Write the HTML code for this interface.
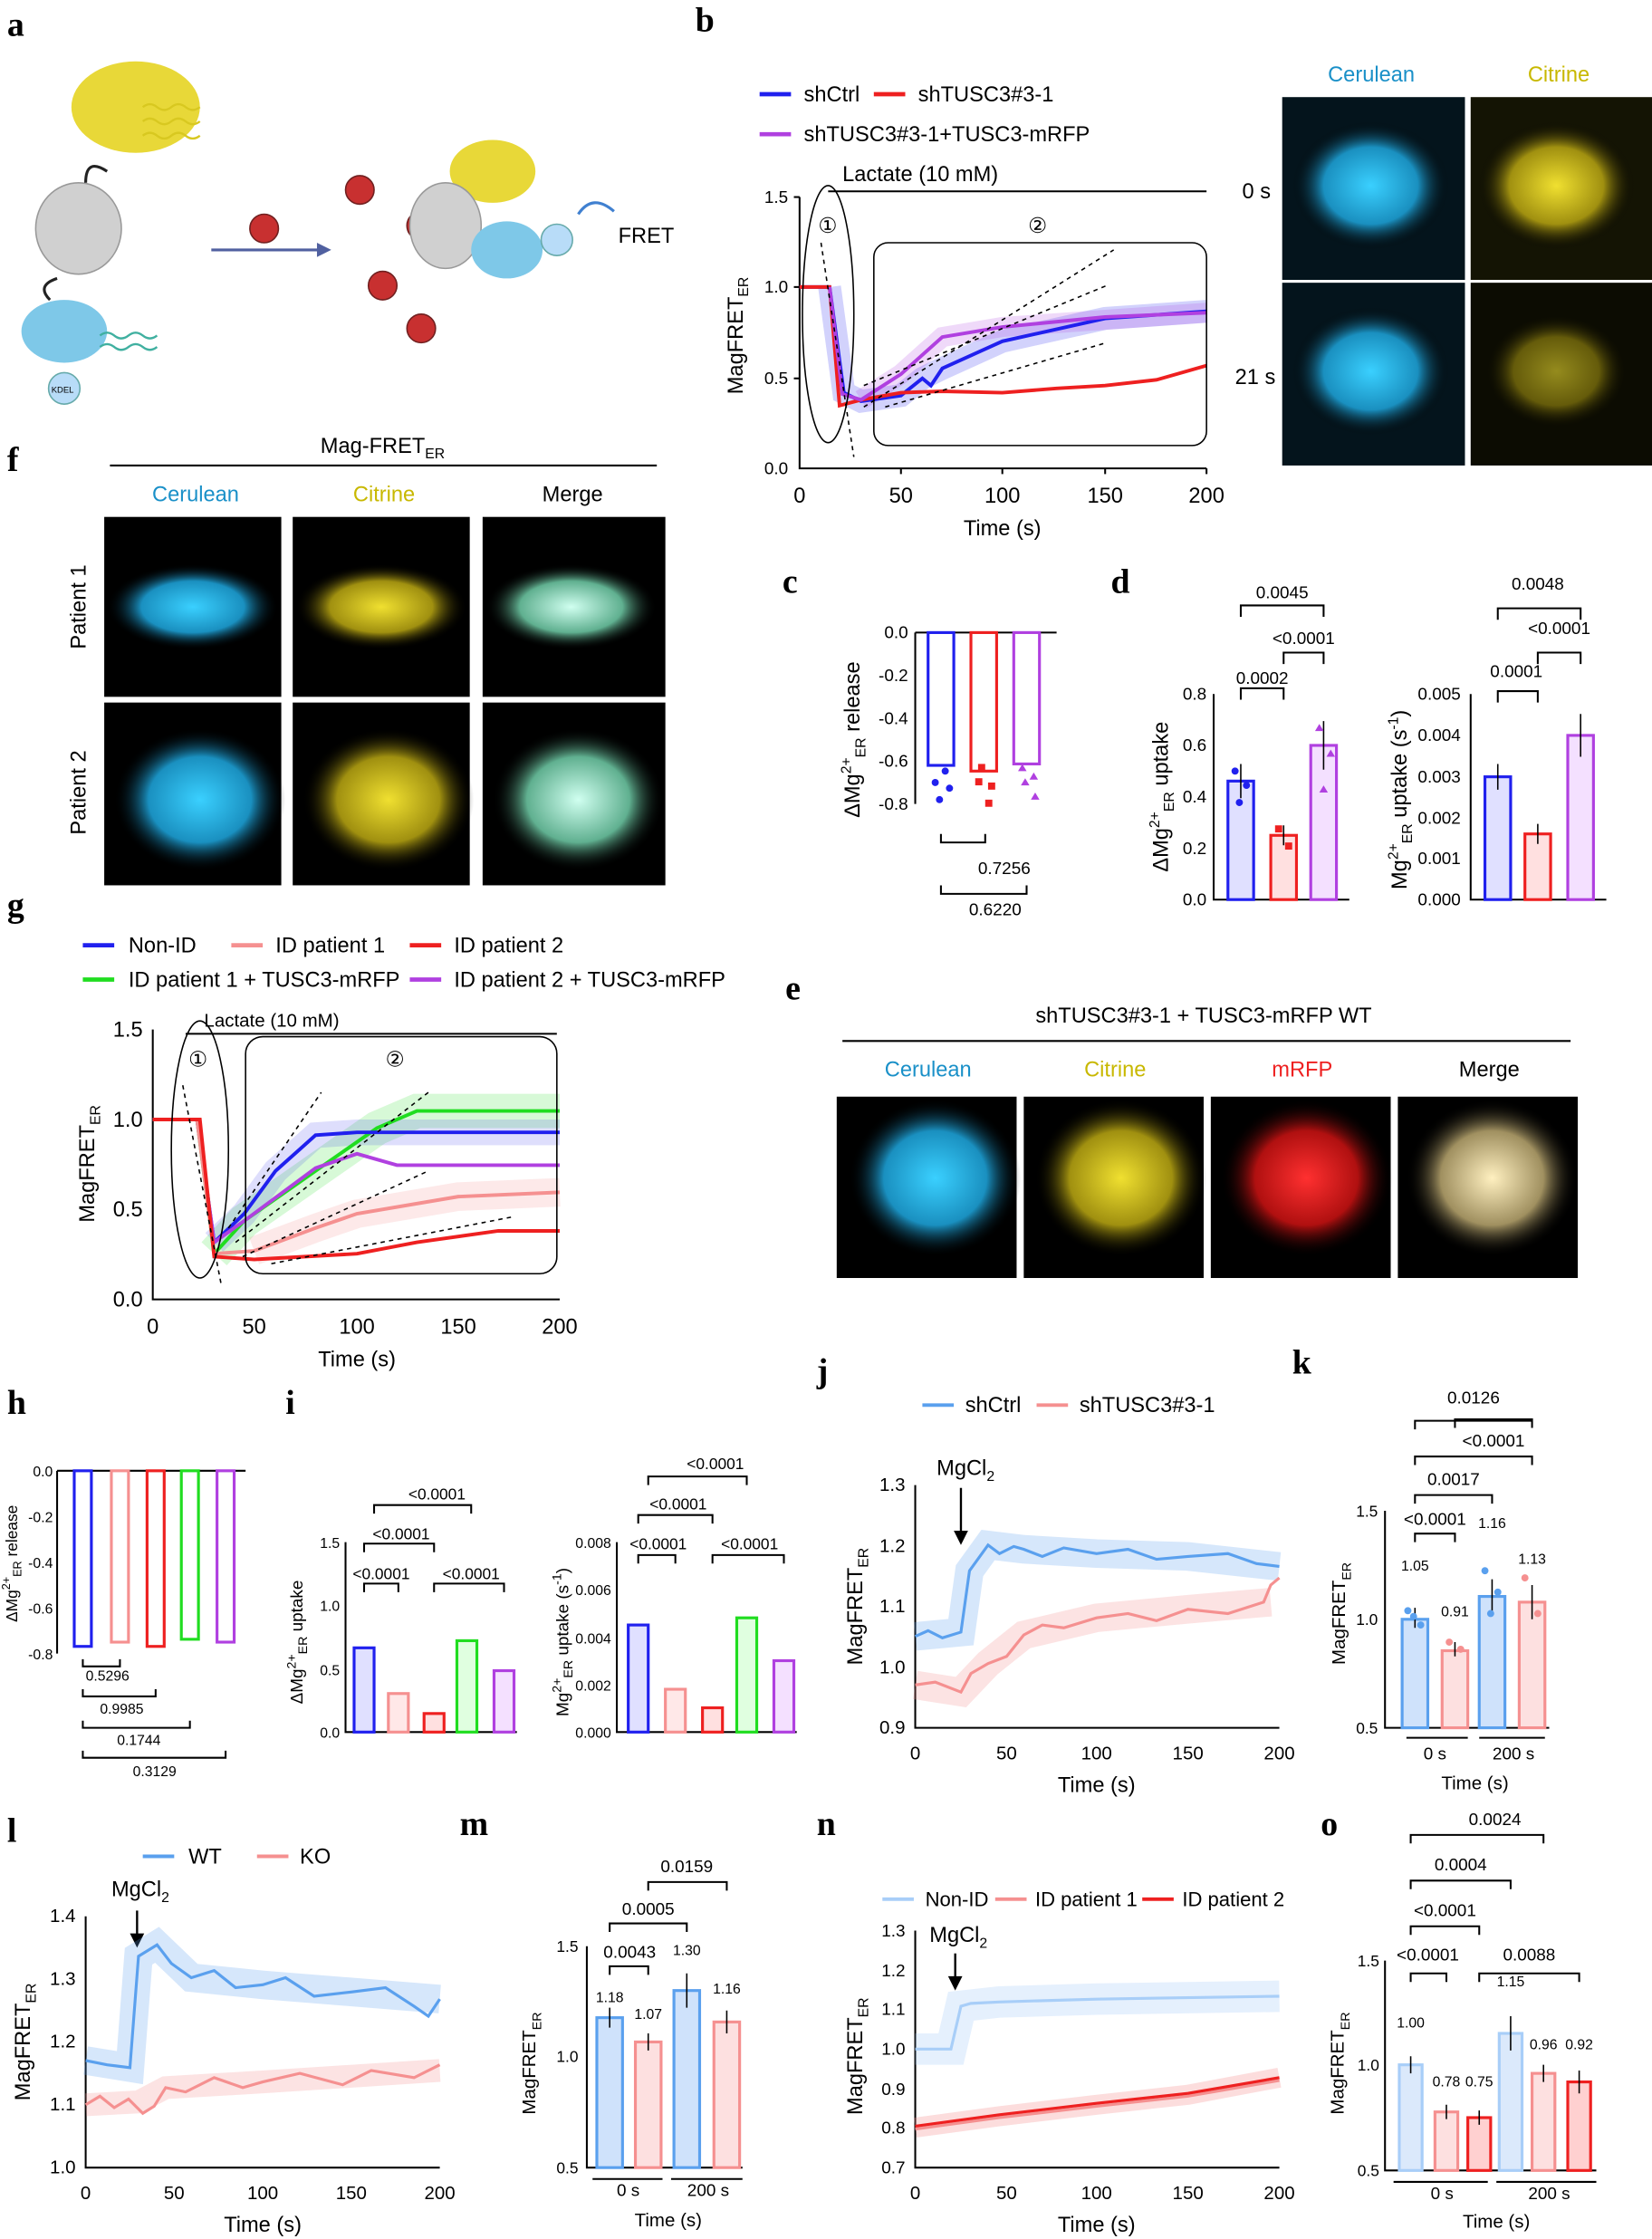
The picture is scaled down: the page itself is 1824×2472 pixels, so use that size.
<!DOCTYPE html>
<html><head><meta charset="utf-8"><style>
html,body{margin:0;padding:0;background:#fff}
svg{display:block}
text{font-family:"Liberation Sans",sans-serif;fill:#000}
.pl{font-size:24px;font-weight:bold;font-family:"Liberation Serif",serif}
.t{font-size:12px}
.l{font-size:15px}
.ax{stroke:#000;stroke-width:1.3;fill:none}
</style></head><body>
<svg width="1824" height="2472" viewBox="0 0 1157 1568" preserveAspectRatio="none" xmlns="http://www.w3.org/2000/svg">
<defs>
<radialGradient id="gc"><stop offset="0" stop-color="#3ad0ff"/><stop offset="0.6" stop-color="#1a90c0"/><stop offset="1" stop-color="#000" stop-opacity="0"/></radialGradient>
<radialGradient id="gy"><stop offset="0" stop-color="#f0e030"/><stop offset="0.6" stop-color="#a09010"/><stop offset="1" stop-color="#000" stop-opacity="0"/></radialGradient>
<radialGradient id="gm"><stop offset="0" stop-color="#d0fff0"/><stop offset="0.6" stop-color="#60b090"/><stop offset="1" stop-color="#000" stop-opacity="0"/></radialGradient>
<radialGradient id="gr"><stop offset="0" stop-color="#ff3030"/><stop offset="0.6" stop-color="#b01010"/><stop offset="1" stop-color="#000" stop-opacity="0"/></radialGradient>
<radialGradient id="gw"><stop offset="0" stop-color="#fff0c0"/><stop offset="0.6" stop-color="#a09060"/><stop offset="1" stop-color="#000" stop-opacity="0"/></radialGradient>
</defs>
<!-- panel letters -->
<text class="pl" x="5" y="25">a</text><text class="pl" x="487" y="22">b</text>
<text class="pl" x="5" y="330">f</text><text class="pl" x="548" y="415">c</text><text class="pl" x="778" y="415">d</text>
<text class="pl" x="5" y="642">g</text><text class="pl" x="550" y="700">e</text>
<text class="pl" x="5" y="990">h</text><text class="pl" x="200" y="990">i</text><text class="pl" x="572" y="968">j</text><text class="pl" x="905" y="962">k</text>
<text class="pl" x="5" y="1290">l</text><text class="pl" x="322" y="1285">m</text><text class="pl" x="572" y="1285">n</text><text class="pl" x="925" y="1285">o</text>

<!-- panel a cartoon -->
<ellipse cx="95" cy="75" rx="45" ry="32" fill="#e8d838"/>
<ellipse cx="55" cy="160" rx="30" ry="32" fill="#d0d0d0" stroke="#999"/>
<ellipse cx="45" cy="232" rx="30" ry="22" fill="#7ec8e8"/>
<circle cx="45" cy="272" r="11" fill="#b8dcf8" stroke="#6aa"/><text x="36" y="275" style="font-size:6px">KDEL</text>
<path d="M75 120 Q60 110 60 128 M40 195 Q25 200 35 210" stroke="#222" stroke-width="2" fill="none"/>
<g stroke="#d8c820" stroke-width="1.5" fill="none"><path d="M100 75 q5-4 10 0 q5 4 10 0 q5-4 10 0 q5 4 10 0"/><path d="M100 85 q5-4 10 0 q5 4 10 0 q5-4 10 0 q5 4 10 0"/><path d="M100 95 q5-4 10 0 q5 4 10 0 q5-4 10 0 q5 4 10 0"/></g>
<g stroke="#40b0a0" stroke-width="1.5" fill="none"><path d="M70 235 q5-4 10 0 q5 4 10 0 q5-4 10 0 q5 4 10 0"/><path d="M70 243 q5-4 10 0 q5 4 10 0 q5-4 10 0 q5 4 10 0"/></g>
<line x1="148" y1="175" x2="228" y2="175" stroke="#5060a0" stroke-width="2"/><path d="M232 175 l-10-5 v10z" fill="#5060a0"/>
<g fill="#c83030" stroke="#702020"><circle cx="185" cy="160" r="10"/><circle cx="252" cy="133" r="10"/><circle cx="295" cy="158" r="10"/><circle cx="268" cy="200" r="10"/><circle cx="295" cy="230" r="10"/></g>
<ellipse cx="345" cy="120" rx="30" ry="22" fill="#e8d838"/>
<ellipse cx="312" cy="158" rx="25" ry="30" fill="#d0d0d0" stroke="#999"/>
<ellipse cx="355" cy="175" rx="25" ry="20" fill="#7ec8e8"/>
<circle cx="390" cy="168" r="11" fill="#b8dcf8" stroke="#6aa"/>
<path d="M430 148 Q415 135 405 150" stroke="#4080d0" stroke-width="2" fill="none"/>
<text x="433" y="170" class="l">FRET</text>

<!-- panel b -->
<line x1="532" y1="66" x2="554" y2="66" stroke="#2020ee" stroke-width="3"/><text x="563" y="71" class="l">shCtrl</text>
<line x1="612" y1="66" x2="634" y2="66" stroke="#ee2020" stroke-width="3"/><text x="643" y="71" class="l">shTUSC3#3-1</text>
<line x1="532" y1="94" x2="554" y2="94" stroke="#b040e0" stroke-width="3"/><text x="563" y="99" class="l">shTUSC3#3-1+TUSC3-mRFP</text>
<text x="590" y="127" class="l">Lactate (10 mM)</text><line x1="580" y1="134" x2="845" y2="134" class="ax"/>
<path d="M560 138 V328 H845" class="ax"/>
<g class="t" text-anchor="end"><text x="552" y="142">1.5</text><text x="552" y="205">1.0</text><text x="552" y="269">0.5</text><text x="552" y="332">0.0</text></g>
<g class="ax"><line x1="556" y1="138" x2="560" y2="138"/><line x1="556" y1="201" x2="560" y2="201"/><line x1="556" y1="265" x2="560" y2="265"/><line x1="631" y1="328" x2="631" y2="332"/><line x1="702" y1="328" x2="702" y2="332"/><line x1="774" y1="328" x2="774" y2="332"/><line x1="845" y1="328" x2="845" y2="332"/></g>
<g class="l" text-anchor="middle"><text x="560" y="352">0</text><text x="631" y="352">50</text><text x="702" y="352">100</text><text x="774" y="352">150</text><text x="845" y="352">200</text><text x="702" y="375">Time (s)</text></g>
<text transform="translate(520 235) rotate(-90)" text-anchor="middle" class="l">MagFRET<tspan dy="4" font-size="10">ER</tspan></text>
<polyline points="581,201 591,275 603,281 631,277 646,265 660,258 702,239 774,223 845,218" fill="none" stroke="#2020ee" stroke-width="16" opacity="0.2"/>
<polyline points="603,280 631,262 660,236 702,229 845,219" fill="none" stroke="#b040e0" stroke-width="14" opacity="0.2"/>
<polyline points="560,201 581,201 591,275 603,281 631,277 646,265 652,270 660,258 702,239 774,223 845,218" fill="none" stroke="#2020ee" stroke-width="2.5"/>
<polyline points="560,201 581,201 588,284 603,280 631,275 660,274 702,275 740,272 774,270 810,266 845,256" fill="none" stroke="#ee2020" stroke-width="2.5"/>
<polyline points="581,201 590,276 603,280 631,262 660,236 702,229 774,222 845,219" fill="none" stroke="#b040e0" stroke-width="2.5"/>
<ellipse cx="580" cy="220" rx="18" ry="90" fill="none" stroke="#000"/>
<rect x="612" y="170" width="233" height="142" rx="10" fill="none" stroke="#000"/>
<text x="573" y="163" class="l">①</text><text x="720" y="163" class="l">②</text>
<g stroke="#000" stroke-dasharray="3,3"><line x1="575" y1="170" x2="598" y2="320"/><line x1="605" y1="270" x2="775" y2="200"/><line x1="605" y1="285" x2="780" y2="175"/><line x1="620" y1="285" x2="775" y2="240"/></g>
<text x="930" y="57" class="l" style="fill:#1a90c8">Cerulean</text><text x="1070" y="57" class="l" style="fill:#c8b800">Citrine</text>
<text x="870" y="139" class="l">0 s</text><text x="865" y="269" class="l">21 s</text>
<rect x="898" y="68" width="128" height="128" fill="#04141c"/><ellipse cx="960" cy="130" rx="55" ry="45" fill="url(#gc)"/>
<rect x="1030" y="68" width="127" height="128" fill="#141404"/><ellipse cx="1090" cy="130" rx="55" ry="45" fill="url(#gy)"/>
<rect x="898" y="198" width="128" height="128" fill="#04141c"/><ellipse cx="960" cy="260" rx="55" ry="45" fill="url(#gc)"/>
<rect x="1030" y="198" width="127" height="128" fill="#0c0c02"/><ellipse cx="1090" cy="260" rx="50" ry="40" fill="url(#gy)" opacity="0.6"/>

<!-- panel f -->
<text x="268" y="317" class="l" text-anchor="middle">Mag-FRET<tspan dy="4" font-size="10">ER</tspan></text>
<line x1="77" y1="326" x2="460" y2="326" class="ax"/>
<text x="137" y="351" class="l" text-anchor="middle" style="fill:#1a90c8">Cerulean</text><text x="269" y="351" class="l" text-anchor="middle" style="fill:#c8b800">Citrine</text><text x="401" y="351" class="l" text-anchor="middle">Merge</text>
<text transform="translate(60 425) rotate(-90)" class="l" text-anchor="middle">Patient 1</text><text transform="translate(60 555) rotate(-90)" class="l" text-anchor="middle">Patient 2</text>
<rect x="73" y="362" width="124" height="126" fill="#000"/><ellipse cx="135" cy="425" rx="60" ry="30" fill="url(#gc)"/>
<rect x="205" y="362" width="124" height="126" fill="#000"/><ellipse cx="267" cy="425" rx="60" ry="30" fill="url(#gy)"/>
<rect x="338" y="362" width="128" height="126" fill="#000"/><ellipse cx="400" cy="425" rx="60" ry="30" fill="url(#gm)"/>
<rect x="73" y="492" width="124" height="128" fill="#000"/><ellipse cx="140" cy="560" rx="60" ry="50" fill="url(#gc)"/>
<rect x="205" y="492" width="124" height="128" fill="#000"/><ellipse cx="272" cy="560" rx="60" ry="50" fill="url(#gy)"/>
<rect x="338" y="492" width="128" height="128" fill="#000"/><ellipse cx="405" cy="560" rx="60" ry="50" fill="url(#gm)"/>

<!-- panel c -->
<path d="M641 443 V563 M641 443 H740" class="ax"/>
<g class="t" text-anchor="end"><text x="636" y="447">0.0</text><text x="636" y="477">-0.2</text><text x="636" y="507">-0.4</text><text x="636" y="537">-0.6</text><text x="636" y="567">-0.8</text></g>
<g fill="#fff" stroke-width="2"><rect x="650" y="443" width="18" height="93" stroke="#2020ee"/><rect x="680" y="443" width="18" height="97" stroke="#ee2020"/><rect x="710" y="443" width="18" height="92" stroke="#b040e0"/></g>
<g fill="#2020ee"><circle cx="655" cy="548" r="2.5"/><circle cx="662" cy="540" r="2.5"/><circle cx="658" cy="560" r="2.5"/><circle cx="665" cy="552" r="2.5"/></g>
<g fill="#ee2020"><rect x="683" y="545" width="5" height="5"/><rect x="690" y="560" width="5" height="5"/><rect x="685" y="535" width="5" height="5"/><rect x="692" y="548" width="5" height="5"/></g>
<g fill="#b040e0"><path d="M715 550 l3-5 3 5z M722 560 l3-5 3 5z M713 540 l3-5 3 5z M721 546 l3-5 3 5z"/></g>
<path d="M659 584 v6 H690 v-6 M659 620 v6 H719 v-6" class="ax"/>
<text x="685" y="612" class="t">0.7256</text><text x="697" y="641" class="t" text-anchor="middle">0.6220</text>
<text transform="translate(602 518) rotate(-90)" class="l" text-anchor="middle">ΔMg<tspan dy="-6" font-size="10">2+</tspan><tspan dy="10" font-size="10">ER</tspan><tspan dy="-4"> release</tspan></text>

<!-- panel d -->
<path d="M850 486 V630 H945" class="ax"/>
<g class="t" text-anchor="end"><text x="845" y="490">0.8</text><text x="845" y="526">0.6</text><text x="845" y="562">0.4</text><text x="845" y="598">0.2</text><text x="845" y="634">0.0</text></g>
<rect x="860" y="547" width="18" height="83" fill="#e0e0ff" stroke="#2020ee" stroke-width="2"/>
<rect x="890" y="585" width="18" height="45" fill="#ffe0e0" stroke="#ee2020" stroke-width="2"/>
<rect x="918" y="522" width="18" height="108" fill="#f4e0ff" stroke="#b040e0" stroke-width="2"/>
<path d="M869 535 v24 M899 578 v14 M927 505 v34" stroke="#000"/>
<g fill="#2020ee"><circle cx="865" cy="540" r="2.5"/><circle cx="873" cy="550" r="2.5"/><circle cx="868" cy="562" r="2.5"/></g>
<g fill="#ee2020"><rect x="893" y="578" width="5" height="5"/><rect x="900" y="590" width="5" height="5"/></g>
<g fill="#b040e0"><path d="M921 512 l3-5 3 5z M929 530 l3-5 3 5z M924 555 l3-5 3 5z"/></g>
<path d="M869 490 v-8 H899 v8 M899 465 v-8 H927 v8 M869 432 v-8 H927 v8" class="ax"/>
<text x="884" y="479" class="t" text-anchor="middle">0.0002</text><text x="913" y="451" class="t" text-anchor="middle">&lt;0.0001</text><text x="898" y="419" class="t" text-anchor="middle">0.0045</text>
<text transform="translate(818 558) rotate(-90)" class="l" text-anchor="middle">ΔMg<tspan dy="-6" font-size="10">2+</tspan><tspan dy="10" font-size="10">ER</tspan><tspan dy="-4"> uptake</tspan></text>
<path d="M1030 486 V630 H1125" class="ax"/>
<g class="t" text-anchor="end"><text x="1023" y="490">0.005</text><text x="1023" y="519">0.004</text><text x="1023" y="548">0.003</text><text x="1023" y="577">0.002</text><text x="1023" y="605">0.001</text><text x="1023" y="634">0.000</text></g>
<rect x="1040" y="544" width="18" height="86" fill="#e0e0ff" stroke="#2020ee" stroke-width="2"/>
<rect x="1068" y="584" width="18" height="46" fill="#ffe0e0" stroke="#ee2020" stroke-width="2"/>
<rect x="1098" y="515" width="18" height="115" fill="#f4e0ff" stroke="#b040e0" stroke-width="2"/>
<path d="M1049 535 v18 M1077 577 v14 M1107 500 v30" stroke="#000"/>
<path d="M1049 492 v-8 H1077 v8 M1077 465 v-8 H1107 v8 M1049 434 v-8 H1107 v8" class="ax"/>
<text x="1062" y="474" class="t" text-anchor="middle">0.0001</text><text x="1092" y="444" class="t" text-anchor="middle">&lt;0.0001</text><text x="1077" y="413" class="t" text-anchor="middle">0.0048</text>
<text transform="translate(985 560) rotate(-90)" class="l" text-anchor="middle">Mg<tspan dy="-6" font-size="10">2+</tspan><tspan dy="10" font-size="10">ER</tspan><tspan dy="-4"> uptake (s</tspan><tspan dy="-6" font-size="10">-1</tspan><tspan dy="6">)</tspan></text>

<!-- panel g -->
<line x1="58" y1="662" x2="80" y2="662" stroke="#2020ee" stroke-width="3"/><text x="90" y="667" class="l">Non-ID</text>
<line x1="162" y1="662" x2="184" y2="662" stroke="#f59090" stroke-width="3"/><text x="193" y="667" class="l">ID patient 1</text>
<line x1="287" y1="662" x2="309" y2="662" stroke="#ee2020" stroke-width="3"/><text x="318" y="667" class="l">ID patient 2</text>
<line x1="58" y1="686" x2="80" y2="686" stroke="#20dd20" stroke-width="3"/><text x="90" y="691" class="l">ID patient 1 + TUSC3-mRFP</text>
<line x1="287" y1="686" x2="309" y2="686" stroke="#b040e0" stroke-width="3"/><text x="318" y="691" class="l">ID patient 2 + TUSC3-mRFP</text>
<text x="143" y="719" class="t" style="font-size:13px">Lactate (10 mM)</text><line x1="130" y1="724" x2="390" y2="724" class="ax"/>
<path d="M107 721 V910 H392" class="ax"/>
<g class="l" text-anchor="end"><text x="100" y="726">1.5</text><text x="100" y="789">1.0</text><text x="100" y="852">0.5</text><text x="100" y="915">0.0</text></g>
<g class="l" text-anchor="middle"><text x="107" y="934">0</text><text x="178" y="934">50</text><text x="250" y="934">100</text><text x="321" y="934">150</text><text x="392" y="934">200</text><text x="250" y="957">Time (s)</text></g>
<text transform="translate(66 815) rotate(-90)" text-anchor="middle" class="l">MagFRET<tspan dy="4" font-size="10">ER</tspan></text>
<polyline points="150,878 171,855 221,820 264,790 292,778 392,778" fill="none" stroke="#20dd20" stroke-width="24" opacity="0.18"/>
<polyline points="150,870 171,850 193,820 221,795 250,793 392,793" fill="none" stroke="#2020ee" stroke-width="18" opacity="0.15"/>
<polyline points="178,876 221,860 250,850 321,838 392,835" fill="none" stroke="#f59090" stroke-width="20" opacity="0.2"/>
<polyline points="107,784 138,784 150,878 171,855 221,820 264,790 292,778 392,778" fill="none" stroke="#20dd20" stroke-width="2.5"/>
<polyline points="107,784 138,784 150,870 171,850 193,820 221,795 250,793 392,793" fill="none" stroke="#2020ee" stroke-width="2.5"/>
<polyline points="107,784 138,784 150,870 171,855 221,818 250,808 278,816 392,816" fill="none" stroke="#b040e0" stroke-width="2.5"/>
<polyline points="107,784 138,784 150,878 178,876 221,860 250,850 321,838 392,835" fill="none" stroke="#f59090" stroke-width="2.5"/>
<polyline points="107,784 140,784 150,880 178,882 250,878 292,870 349,862 392,862" fill="none" stroke="#ee2020" stroke-width="2.5"/>
<ellipse cx="140" cy="805" rx="20" ry="90" fill="none" stroke="#000"/>
<rect x="172" y="726" width="218" height="166" rx="12" fill="none" stroke="#000"/>
<text x="132" y="747" class="l">①</text><text x="270" y="747" class="l">②</text>
<g stroke="#000" stroke-dasharray="3,3"><line x1="128" y1="760" x2="155" y2="900"/><line x1="160" y1="860" x2="225" y2="765"/><line x1="165" y1="870" x2="300" y2="765"/><line x1="170" y1="880" x2="300" y2="820"/><line x1="190" y1="885" x2="360" y2="852"/></g>

<!-- panel e -->
<text x="843" y="716" class="l" text-anchor="middle">shTUSC3#3-1 + TUSC3-mRFP WT</text>
<line x1="590" y1="729" x2="1100" y2="729" class="ax"/>
<text x="650" y="754" class="l" text-anchor="middle" style="fill:#1a90c8">Cerulean</text><text x="781" y="754" class="l" text-anchor="middle" style="fill:#c8b800">Citrine</text><text x="912" y="754" class="l" text-anchor="middle" style="fill:#ee2020">mRFP</text><text x="1043" y="754" class="l" text-anchor="middle">Merge</text>
<rect x="586" y="768" width="126" height="127" fill="#000"/><ellipse cx="655" cy="825" rx="60" ry="55" fill="url(#gc)"/>
<rect x="717" y="768" width="126" height="127" fill="#000"/><ellipse cx="785" cy="825" rx="60" ry="55" fill="url(#gy)"/>
<rect x="848" y="768" width="126" height="127" fill="#000"/><ellipse cx="915" cy="825" rx="60" ry="55" fill="url(#gr)"/>
<rect x="979" y="768" width="126" height="127" fill="#000"/><ellipse cx="1045" cy="825" rx="60" ry="55" fill="url(#gw)"/>

<!-- panel h -->
<path d="M40 1030 V1158 M40 1030 H172" class="ax"/>
<g class="t" text-anchor="end" style="font-size:10px"><text x="37" y="1034">0.0</text><text x="37" y="1066">-0.2</text><text x="37" y="1098">-0.4</text><text x="37" y="1130">-0.6</text><text x="37" y="1162">-0.8</text></g>
<g fill="#fff" stroke-width="2"><rect x="52" y="1030" width="12" height="123" stroke="#2020ee"/><rect x="78" y="1030" width="12" height="120" stroke="#f59090"/><rect x="103" y="1030" width="12" height="123" stroke="#ee2020"/><rect x="127" y="1030" width="12" height="118" stroke="#20dd20"/><rect x="152" y="1030" width="12" height="120" stroke="#b040e0"/></g>
<path d="M58 1162 v5 H84 v-5 M58 1183 v5 H109 v-5 M58 1205 v5 H133 v-5 M58 1226 v5 H158 v-5" class="ax"/>
<g class="t" style="font-size:10px"><text x="60" y="1177">0.5296</text><text x="70" y="1200">0.9985</text><text x="82" y="1222">0.1744</text><text x="93" y="1244">0.3129</text></g>
<text transform="translate(12 1095) rotate(-90)" style="font-size:11px" text-anchor="middle">ΔMg<tspan dy="-5" font-size="8">2+</tspan><tspan dy="8" font-size="8">ER</tspan><tspan dy="-3"> release</tspan></text>

<!-- panel i -->
<path d="M242 1080 V1213 H362" class="ax"/>
<g class="t" text-anchor="end" style="font-size:10px"><text x="238" y="1084">1.5</text><text x="238" y="1128">1.0</text><text x="238" y="1173">0.5</text><text x="238" y="1217">0.0</text></g>
<rect x="248" y="1154" width="14" height="59" fill="#e0e0ff" stroke="#2020ee" stroke-width="2"/>
<rect x="272" y="1186" width="14" height="27" fill="#ffe8e8" stroke="#f59090" stroke-width="2"/>
<rect x="297" y="1200" width="14" height="13" fill="#ffe0e0" stroke="#ee2020" stroke-width="2"/>
<rect x="320" y="1149" width="14" height="64" fill="#e0ffe0" stroke="#20dd20" stroke-width="2"/>
<rect x="346" y="1170" width="14" height="43" fill="#f4e0ff" stroke="#b040e0" stroke-width="2"/>
<path d="M255 1115 v-6 H279 v6 M255 1087 v-6 H304 v6 M262 1060 v-6 H330 v6 M304 1115 v-6 H353 v6" class="ax"/>
<g class="t" text-anchor="middle" style="font-size:11px"><text x="267" y="1106">&lt;0.0001</text><text x="281" y="1078">&lt;0.0001</text><text x="306" y="1050">&lt;0.0001</text><text x="330" y="1106">&lt;0.0001</text></g>
<text transform="translate(212 1150) rotate(-90)" style="font-size:12px" text-anchor="middle">ΔMg<tspan dy="-5" font-size="9">2+</tspan><tspan dy="8" font-size="9">ER</tspan><tspan dy="-3"> uptake</tspan></text>
<path d="M432 1080 V1213 H558" class="ax"/>
<g class="t" text-anchor="end" style="font-size:10px"><text x="428" y="1084">0.008</text><text x="428" y="1117">0.006</text><text x="428" y="1151">0.004</text><text x="428" y="1184">0.002</text><text x="428" y="1217">0.000</text></g>
<rect x="440" y="1138" width="14" height="75" fill="#e0e0ff" stroke="#2020ee" stroke-width="2"/>
<rect x="466" y="1183" width="14" height="30" fill="#ffe8e8" stroke="#f59090" stroke-width="2"/>
<rect x="492" y="1196" width="14" height="17" fill="#ffe0e0" stroke="#ee2020" stroke-width="2"/>
<rect x="516" y="1133" width="14" height="80" fill="#e0ffe0" stroke="#20dd20" stroke-width="2"/>
<rect x="542" y="1163" width="14" height="50" fill="#f4e0ff" stroke="#b040e0" stroke-width="2"/>
<path d="M447 1095 v-6 H473 v6 M447 1067 v-6 H499 v6 M454 1040 v-6 H523 v6 M499 1095 v-6 H549 v6" class="ax"/>
<g class="t" text-anchor="middle" style="font-size:11px"><text x="461" y="1085">&lt;0.0001</text><text x="475" y="1057">&lt;0.0001</text><text x="501" y="1029">&lt;0.0001</text><text x="525" y="1085">&lt;0.0001</text></g>
<text transform="translate(398 1150) rotate(-90)" style="font-size:12px" text-anchor="middle">Mg<tspan dy="-5" font-size="9">2+</tspan><tspan dy="8" font-size="9">ER</tspan><tspan dy="-3"> uptake (s</tspan><tspan dy="-5" font-size="9">-1</tspan><tspan dy="5">)</tspan></text>

<!-- panel j -->
<line x1="646" y1="984" x2="668" y2="984" stroke="#5aa0ee" stroke-width="2.5"/><text x="676" y="989" class="l">shCtrl</text>
<line x1="726" y1="984" x2="748" y2="984" stroke="#f59090" stroke-width="2.5"/><text x="756" y="989" class="l">shTUSC3#3-1</text>
<text x="656" y="1033" class="l">MgCl<tspan dy="4" font-size="10">2</tspan></text><path d="M673 1042 v32" stroke="#000" stroke-width="1.5"/><path d="M673 1082 l-5-10 h10z"/>
<path d="M641 1040 V1210 H896" class="ax"/>
<g class="t" text-anchor="end" style="font-size:13px"><text x="634" y="1044">1.3</text><text x="634" y="1087">1.2</text><text x="634" y="1129">1.1</text><text x="634" y="1172">1.0</text><text x="634" y="1214">0.9</text></g>
<g class="t" text-anchor="middle" style="font-size:13px"><text x="641" y="1232">0</text><text x="705" y="1232">50</text><text x="768" y="1232">100</text><text x="832" y="1232">150</text><text x="896" y="1232">200</text></g>
<text x="768" y="1255" class="l" text-anchor="middle">Time (s)</text>
<text transform="translate(604 1125) rotate(-90)" text-anchor="middle" class="l">MagFRET<tspan dy="4" font-size="10">ER</tspan></text>
<polyline points="641,1146 673,1143 679,1100 692,1082 717,1085 768,1088 832,1090 896,1097" fill="none" stroke="#5aa0ee" stroke-width="20" opacity="0.25"/>
<polyline points="641,1180 673,1185 692,1165 717,1145 768,1133 832,1127 890,1122" fill="none" stroke="#f59090" stroke-width="20" opacity="0.25"/>
<polyline points="641,1146 650,1142 660,1147 673,1143 679,1100 692,1082 700,1088 710,1083 717,1085 730,1090 745,1084 768,1088 790,1085 810,1092 832,1090 860,1088 880,1095 896,1097" fill="none" stroke="#5aa0ee" stroke-width="2"/>
<polyline points="641,1180 655,1178 673,1185 680,1172 692,1165 705,1160 717,1145 730,1138 745,1140 768,1133 790,1130 810,1135 832,1127 860,1130 885,1122 890,1110 896,1105" fill="none" stroke="#f59090" stroke-width="2"/>

<!-- panel k -->
<path d="M970 1058 V1210 H1085" class="ax"/>
<g class="t" text-anchor="end" style="font-size:11px"><text x="965" y="1062">1.5</text><text x="965" y="1138">1.0</text><text x="965" y="1214">0.5</text></g>
<rect x="982" y="1134" width="18" height="76" fill="#cfe2fb" stroke="#5aa0ee" stroke-width="2"/>
<rect x="1010" y="1156" width="18" height="54" fill="#fde0e0" stroke="#f59090" stroke-width="2"/>
<rect x="1036" y="1118" width="18" height="92" fill="#cfe2fb" stroke="#5aa0ee" stroke-width="2"/>
<rect x="1064" y="1122" width="18" height="88" fill="#fde0e0" stroke="#f59090" stroke-width="2"/>
<path d="M991 1126 v14 M1019 1150 v10 M1045 1106 v22 M1073 1110 v24" stroke="#000"/>
<g fill="#5aa0ee"><circle cx="986" cy="1128" r="2.5"/><circle cx="995" cy="1138" r="2.5"/><circle cx="990" cy="1132" r="2.5"/><circle cx="1040" cy="1100" r="2.5"/><circle cx="1049" cy="1115" r="2.5"/><circle cx="1044" cy="1130" r="2.5"/></g>
<g fill="#f59090"><circle cx="1015" cy="1150" r="2.5"/><circle cx="1023" cy="1155" r="2.5"/><circle cx="1068" cy="1105" r="2.5"/><circle cx="1077" cy="1130" r="2.5"/></g>
<g class="t" text-anchor="middle" style="font-size:10px"><text x="991" y="1100">1.05</text><text x="1019" y="1132">0.91</text><text x="1045" y="1070">1.16</text><text x="1073" y="1095">1.13</text></g>
<path d="M991 1080 v-6 H1019 v6 M991 1053 v-6 H1045 v6 M991 1026 v-6 H1073 v6 M1019 1000 v-6 H1073 v6 M991 1001 v-6 H1073" class="ax"/>
<g class="t" text-anchor="middle" style="font-size:12px"><text x="1005" y="1068">&lt;0.0001</text><text x="1018" y="1040">0.0017</text><text x="1046" y="1013">&lt;0.0001</text><text x="1032" y="983">0.0126</text></g>
<path d="M985 1217 H1028 M1036 1217 H1082" class="ax"/>
<text x="1005" y="1232" class="t" text-anchor="middle">0 s</text><text x="1060" y="1232" class="t" text-anchor="middle">200 s</text>
<text x="1033" y="1253" class="t" text-anchor="middle" style="font-size:13px">Time (s)</text>
<text transform="translate(942 1130) rotate(-90)" text-anchor="middle" style="font-size:13px">MagFRET<tspan dy="4" font-size="9">ER</tspan></text>

<!-- panel l -->
<line x1="100" y1="1300" x2="122" y2="1300" stroke="#5aa0ee" stroke-width="2.5"/><text x="132" y="1305" class="l">WT</text>
<line x1="180" y1="1300" x2="202" y2="1300" stroke="#f59090" stroke-width="2.5"/><text x="210" y="1305" class="l">KO</text>
<text x="78" y="1328" class="l">MgCl<tspan dy="4" font-size="10">2</tspan></text><path d="M96 1338 v18" stroke="#000" stroke-width="1.5"/><path d="M96 1364 l-5-10 h10z"/>
<path d="M60 1342 V1518 H308" class="ax"/>
<g class="t" text-anchor="end" style="font-size:13px"><text x="53" y="1346">1.4</text><text x="53" y="1390">1.3</text><text x="53" y="1434">1.2</text><text x="53" y="1478">1.1</text><text x="53" y="1522">1.0</text></g>
<g class="t" text-anchor="middle" style="font-size:13px"><text x="60" y="1540">0</text><text x="122" y="1540">50</text><text x="184" y="1540">100</text><text x="246" y="1540">150</text><text x="308" y="1540">200</text></g>
<text x="184" y="1563" class="l" text-anchor="middle">Time (s)</text>
<text transform="translate(21 1430) rotate(-90)" text-anchor="middle" class="l">MagFRET<tspan dy="4" font-size="10">ER</tspan></text>
<polyline points="60,1443 91,1448 97,1370 110,1362 134,1385 184,1390 246,1395 308,1400" fill="none" stroke="#5aa0ee" stroke-width="20" opacity="0.25"/>
<polyline points="60,1474 97,1472 116,1462 184,1458 308,1450" fill="none" stroke="#f59090" stroke-width="16" opacity="0.25"/>
<polyline points="60,1443 75,1446 91,1448 97,1370 110,1362 120,1375 134,1385 150,1380 165,1392 184,1390 200,1385 220,1398 246,1395 270,1392 290,1405 300,1412 308,1400" fill="none" stroke="#5aa0ee" stroke-width="2"/>
<polyline points="60,1474 70,1468 80,1476 90,1470 100,1480 108,1475 116,1462 130,1465 150,1455 170,1462 184,1458 210,1452 240,1460 260,1450 290,1455 308,1446" fill="none" stroke="#f59090" stroke-width="2"/>

<!-- panel m -->
<path d="M411 1363 V1518 H520" class="ax"/>
<g class="t" text-anchor="end" style="font-size:11px"><text x="405" y="1367">1.5</text><text x="405" y="1444">1.0</text><text x="405" y="1522">0.5</text></g>
<rect x="418" y="1413" width="18" height="105" fill="#cfe2fb" stroke="#5aa0ee" stroke-width="2"/>
<rect x="445" y="1430" width="18" height="88" fill="#fde0e0" stroke="#f59090" stroke-width="2"/>
<rect x="472" y="1394" width="18" height="124" fill="#cfe2fb" stroke="#5aa0ee" stroke-width="2"/>
<rect x="500" y="1416" width="18" height="102" fill="#fde0e0" stroke="#f59090" stroke-width="2"/>
<path d="M427 1406 v14 M454 1424 v12 M481 1382 v24 M509 1408 v16" stroke="#000"/>
<g class="t" text-anchor="middle" style="font-size:10px"><text x="427" y="1402">1.18</text><text x="454" y="1414">1.07</text><text x="481" y="1369">1.30</text><text x="509" y="1396">1.16</text></g>
<path d="M427 1383 v-6 H454 v6 M427 1353 v-6 H481 v6 M454 1324 v-6 H509 v6" class="ax"/>
<g class="t" text-anchor="middle" style="font-size:12px"><text x="441" y="1371">0.0043</text><text x="454" y="1341">0.0005</text><text x="481" y="1311">0.0159</text></g>
<path d="M415 1526 H464 M470 1526 H520" class="ax"/>
<text x="440" y="1538" class="t" text-anchor="middle">0 s</text><text x="496" y="1538" class="t" text-anchor="middle">200 s</text>
<text x="468" y="1559" class="t" text-anchor="middle" style="font-size:13px">Time (s)</text>
<text transform="translate(375 1445) rotate(-90)" text-anchor="middle" style="font-size:13px">MagFRET<tspan dy="4" font-size="9">ER</tspan></text>

<!-- panel n -->
<line x1="618" y1="1330" x2="640" y2="1330" stroke="#a8cef8" stroke-width="2.5"/><text x="648" y="1335" class="l" style="font-size:14px">Non-ID</text>
<line x1="697" y1="1330" x2="719" y2="1330" stroke="#f59090" stroke-width="2.5"/><text x="725" y="1335" class="l" style="font-size:14px">ID patient 1</text>
<line x1="800" y1="1330" x2="822" y2="1330" stroke="#ee2020" stroke-width="2.5"/><text x="828" y="1335" class="l" style="font-size:14px">ID patient 2</text>
<text x="651" y="1360" class="l">MgCl<tspan dy="4" font-size="10">2</tspan></text><path d="M669 1368 v18" stroke="#000" stroke-width="1.5"/><path d="M669 1394 l-5-10 h10z"/>
<path d="M641 1352 V1518 H896" class="ax"/>
<g class="t" text-anchor="end" style="font-size:12px"><text x="634" y="1356">1.3</text><text x="634" y="1384">1.2</text><text x="634" y="1411">1.1</text><text x="634" y="1439">1.0</text><text x="634" y="1467">0.9</text><text x="634" y="1494">0.8</text><text x="634" y="1522">0.7</text></g>
<g class="t" text-anchor="middle" style="font-size:13px"><text x="641" y="1540">0</text><text x="705" y="1540">50</text><text x="768" y="1540">100</text><text x="832" y="1540">150</text><text x="896" y="1540">200</text></g>
<text x="768" y="1563" class="l" text-anchor="middle">Time (s)</text>
<text transform="translate(604 1440) rotate(-90)" text-anchor="middle" class="l">MagFRET<tspan dy="4" font-size="10">ER</tspan></text>
<polyline points="641,1435 666,1435 673,1405 700,1402 768,1400 896,1398" fill="none" stroke="#a8cef8" stroke-width="22" opacity="0.3"/>
<polyline points="641,1490 700,1482 768,1474 832,1467 896,1455" fill="none" stroke="#f59090" stroke-width="14" opacity="0.3"/>
<polyline points="641,1435 666,1435 673,1405 680,1403 700,1402 768,1400 896,1398" fill="none" stroke="#a8cef8" stroke-width="2"/>
<polyline points="641,1491 700,1483 768,1475 832,1468 896,1457" fill="none" stroke="#f59090" stroke-width="2"/>
<polyline points="641,1489 700,1481 768,1473 832,1466 896,1455" fill="none" stroke="#ee2020" stroke-width="2"/>

<!-- panel o -->
<path d="M970 1373 V1520 H1118" class="ax"/>
<g class="t" text-anchor="end" style="font-size:11px"><text x="966" y="1377">1.5</text><text x="966" y="1450">1.0</text><text x="966" y="1524">0.5</text></g>
<rect x="980" y="1446" width="16" height="74" fill="#dbe9fb" stroke="#a8cef8" stroke-width="2"/>
<rect x="1005" y="1479" width="16" height="41" fill="#fde0e0" stroke="#f59090" stroke-width="2"/>
<rect x="1028" y="1483" width="16" height="37" fill="#ffd0d0" stroke="#ee2020" stroke-width="2"/>
<rect x="1050" y="1424" width="16" height="96" fill="#dbe9fb" stroke="#a8cef8" stroke-width="2"/>
<rect x="1073" y="1452" width="16" height="68" fill="#fde0e0" stroke="#f59090" stroke-width="2"/>
<rect x="1098" y="1458" width="16" height="62" fill="#ffd0d0" stroke="#ee2020" stroke-width="2"/>
<path d="M988 1440 v12 M1013 1474 v10 M1036 1478 v10 M1058 1412 v24 M1081 1446 v12 M1106 1450 v16" stroke="#000"/>
<g class="t" text-anchor="middle" style="font-size:10px"><text x="988" y="1420">1.00</text><text x="1013" y="1461">0.78</text><text x="1036" y="1461">0.75</text><text x="1058" y="1391">1.15</text><text x="1081" y="1435">0.96</text><text x="1106" y="1435">0.92</text></g>
<path d="M988 1388 v-6 H1013 v6 M988 1355 v-6 H1036 v6 M988 1323 v-6 H1058 v6 M988 1291 v-6 H1081 v6 M1036 1388 v-6 H1106 v6" class="ax"/>
<g class="t" text-anchor="middle" style="font-size:12px"><text x="1000" y="1373">&lt;0.0001</text><text x="1012" y="1342">&lt;0.0001</text><text x="1023" y="1310">0.0004</text><text x="1047" y="1278">0.0024</text><text x="1071" y="1373">0.0088</text></g>
<path d="M976 1528 H1042 M1048 1528 H1118" class="ax"/>
<text x="1010" y="1540" class="t" text-anchor="middle">0 s</text><text x="1085" y="1540" class="t" text-anchor="middle">200 s</text>
<text x="1048" y="1560" class="t" text-anchor="middle" style="font-size:13px">Time (s)</text>
<text transform="translate(941 1445) rotate(-90)" text-anchor="middle" style="font-size:13px">MagFRET<tspan dy="4" font-size="9">ER</tspan></text>
</svg>
</body></html>
